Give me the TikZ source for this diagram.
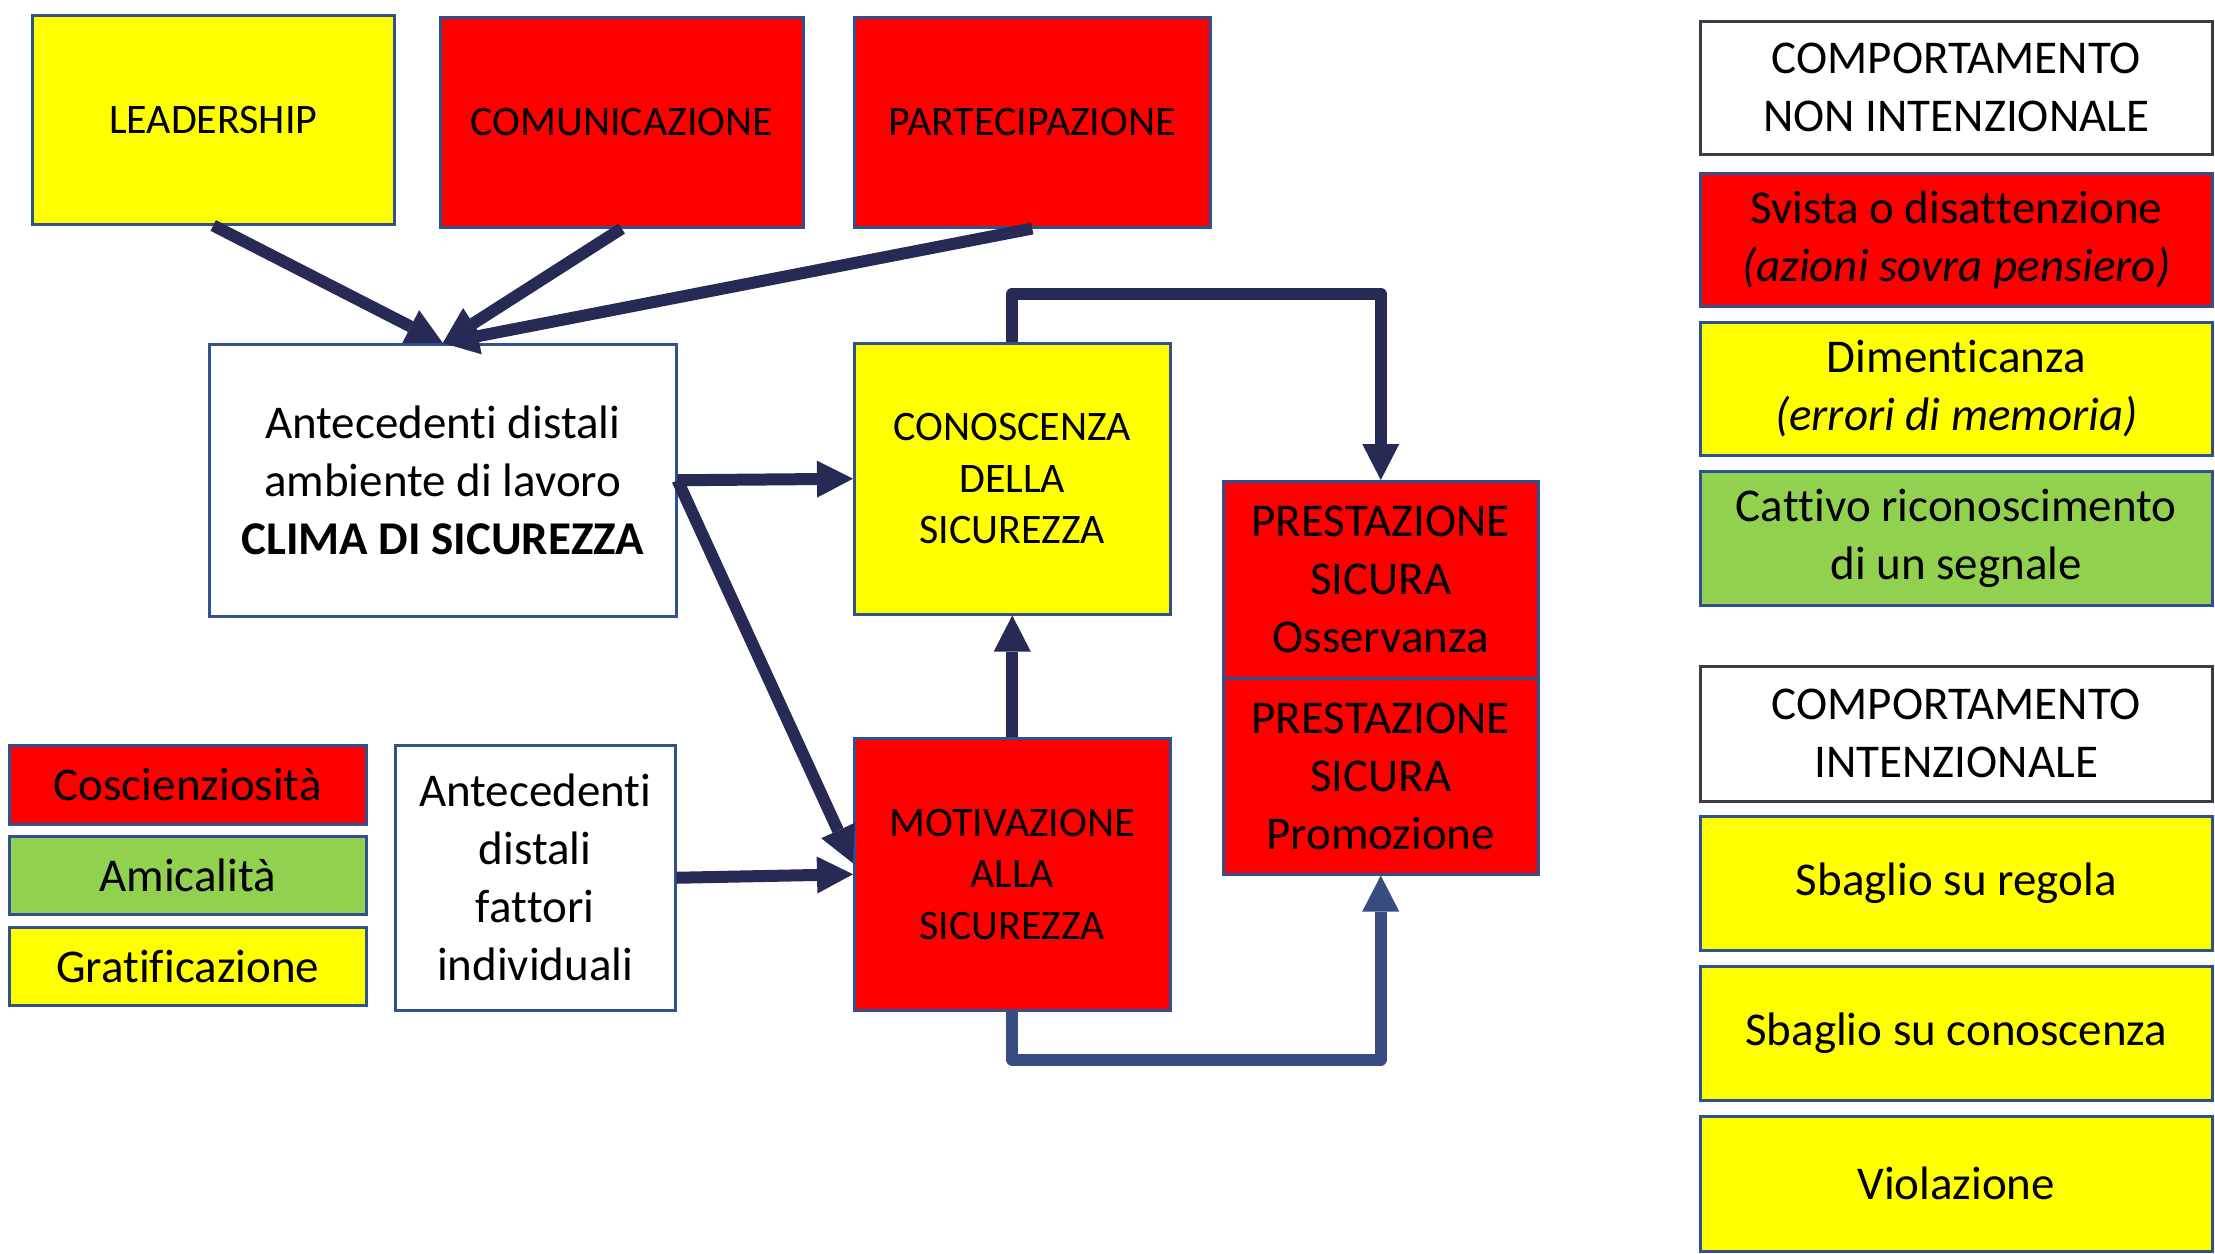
\documentclass[tikz,border=0pt]{standalone}
\usepackage{fontspec}
\setmainfont{Carlito}[Renderer=OpenType,Ligatures=NoCommon]
\usetikzlibrary{arrows.meta}
\newcommand\zk{\kern0pt{}}
\definecolor{navy}{RGB}{38,42,85}
\definecolor{loopblue}{RGB}{55,76,128}
\definecolor{bord}{RGB}{47,82,143}
\definecolor{darkbord}{RGB}{60,60,70}
\definecolor{myred}{RGB}{255,0,0}
\definecolor{myyellow}{RGB}{255,255,0}
\definecolor{mygreen}{RGB}{146,208,80}
\begin{document}
\begin{tikzpicture}[x=1pt,y=-1pt,
  box/.style={draw=bord, line width=2.5pt, anchor=north west, inner sep=0pt, align=center,
    font=\fontsize{47}{58}\selectfont},
  smalltext/.style={font=\fontsize{42}{51.6}\selectfont},
  arr/.style={draw=navy, line width=12pt, line join=round,
    -{Triangle[length=36pt,width=37pt,line width=0pt]}},
]
\useasboundingbox[fill=white] (0,0) rectangle (2215,1253);

% top row
\node[box, fill=myyellow, smalltext, minimum width=362pt, minimum height=209pt] (lead) at (31,14) {LEADERSHIP};
\node[box, fill=myred, smalltext, minimum width=363pt, minimum height=210pt] (comu) at (439,16) {COMUNICAZIONE};
\node[box, fill=myred, smalltext, minimum width=356pt, minimum height=210pt] (part) at (853,16) {PARTECIPAZIONE};

% middle
\node[box, fill=white, minimum width=467pt, minimum height=272pt] (clima) at (208,343)
  {Antecedent\zk i distali\\ambiente di lavoro\\\textbf{CLIMA DI SICUREZZA}};
\node[box, fill=myyellow, smalltext, minimum width=316pt, minimum height=271pt] (cono) at (853,342)
  {CONOSCENZA\\DELLA\\SICUREZZA};
\node[box, fill=myred, smalltext, minimum width=316pt, minimum height=272pt] (moti) at (853,737)
  {MOTIVAZIONE\\ALLA\\SICUREZZA};
\node[box, fill=myred, minimum width=315pt, minimum height=197pt] (oss) at (1222,480)
  {PRESTAZIONE\\SICURA\\Osservanza};
\node[box, fill=myred, minimum width=315pt, minimum height=196pt] (prom) at (1222,677)
  {PRESTAZIONE\\SICURA\\Promozione};
\node[box, fill=white, minimum width=280pt, minimum height=265pt] (indiv) at (394,744)
  {Antecedent\zk i\\distali\\fat\zk t\zk ori\\individuali};

% left legend
\node[box, fill=myred, minimum width=357pt, minimum height=79pt] (cosc) at (8,744) {Coscienziosità};
\node[box, fill=mygreen, minimum width=357pt, minimum height=78pt] (amic) at (8,835) {Amicalità};
\node[box, fill=myyellow, minimum width=357pt, minimum height=78pt] (grat) at (8,926) {Grat\zk if\zk icazione};

% right column
\node[box, draw=darkbord, fill=white, minimum width=512pt, minimum height=133pt] (nonint) at (1699,20)
  {COMPORTAMENTO\\NON INTENZIONALE};
\node[box, fill=myred, minimum width=512pt, minimum height=133pt] (svista) at (1699,172)
  {Svista o disat\zk t\zk enzione\\\textit{(azioni sovra pensiero)}};
\node[box, fill=myyellow, minimum width=512pt, minimum height=133pt] (dimen) at (1699,321)
  {Dimentic\zk anza\\\textit{(errori di memoria)}};
\node[box, fill=mygreen, minimum width=512pt, minimum height=134pt] (catt) at (1699,470)
  {Cat\zk t\zk ivo riconoscimento\\di un segnale};
\node[box, draw=darkbord, fill=white, minimum width=512pt, minimum height=135pt] (inten) at (1699,665)
  {COMPORTAMENTO\\INTENZIONALE};
\node[box, fill=myyellow, minimum width=512pt, minimum height=134pt] (regola) at (1699,815)
  {Sbaglio su regola};
\node[box, fill=myyellow, minimum width=512pt, minimum height=134pt] (conosc) at (1699,965)
  {Sbaglio su conoscenza};
\node[box, fill=myyellow, minimum width=512pt, minimum height=135pt] (viol) at (1699,1115)
  {Violazione};

% connectors
\draw[arr] (lead.south) -- (clima.north);
\draw[arr] (comu.south) -- (clima.north);
\draw[arr] (part.south) -- (clima.north);
\draw[arr] (clima.east) -- (cono.west);
\draw[arr] (clima.east) -- ([yshift=11pt]moti.west);
\draw[arr] (indiv.east) -- (moti.west);
\draw[arr] (moti.north) -- (cono.south);
\draw[arr] (cono.north) -- ++(0,-48) -| (oss.north);
\draw[arr, draw=loopblue] (moti.south) -- ++(0,48) -| (prom.south);
\end{tikzpicture}
\end{document}
